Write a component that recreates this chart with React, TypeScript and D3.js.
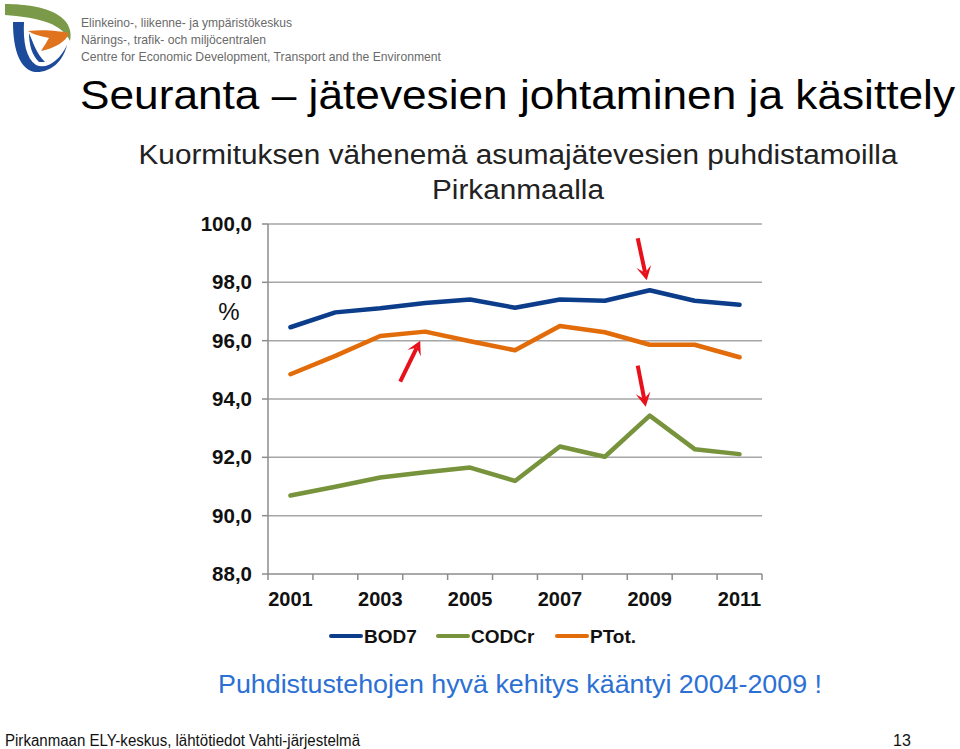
import React from "react";
import * as d3 from "d3";

const years = ["2001","2002","2003","2004","2005","2006","2007","2008","2009","2010","2011"];
const bod7 = [96.46, 96.97, 97.11, 97.29, 97.41, 97.13, 97.41, 97.37, 97.73, 97.37, 97.23];
const codcr = [90.69, 90.99, 91.31, 91.49, 91.65, 91.19, 92.37, 92.02, 93.43, 92.28, 92.11];
const ptot = [94.85, 95.48, 96.16, 96.31, 95.98, 95.67, 96.5, 96.29, 95.86, 95.86, 95.43];
const yTicks = [88, 90, 92, 94, 96, 98, 100];
const xLabelYears = ["2001","2003","2005","2007","2009","2011"];
const seriesNames = ["BOD7", "CODCr", "PTot."];

const COLORS = { BOD7: "#0c3d8b", CODCr: "#77933c", "PTot.": "#e26b0a" };

export default function App() {
  const x = d3.scaleBand().domain(years).range([268, 762]).padding(0);
  const y = d3.scaleLinear().domain([88, 100]).range([574, 224]);
  const cx = (yr: string) => (x(yr) as number) + x.bandwidth() / 2;
  const line = d3.line<number>().x((_, i) => cx(years[i])).y((v) => y(v));
  const series = [
    { name: "BOD7", values: bod7 },
    { name: "CODCr", values: codcr },
    { name: "PTot.", values: ptot },
  ];
  const fmt = (v: number) => v.toFixed(1).replace(".", ",");
  const boundaries = years.map((yr) => x(yr) as number).concat([762]);

  // arrows anchored to data points
  const arrows = [
    { px: cx("2004"), py: y(ptot[3]), tip: [-5, 9], tail: [-25, 50] },
    { px: cx("2009"), py: y(bod7[8]), tip: [-3, -10], tail: [-12, -52] },
    { px: cx("2009"), py: y(codcr[8]), tip: [-4, -9], tail: [-12, -50] },
  ];
  const arrowEls = arrows.map((a, i) => {
    const tx = a.px + a.tip[0], ty = a.py + a.tip[1];
    const sx = a.px + a.tail[0], sy = a.py + a.tail[1];
    const ang = Math.atan2(ty - sy, tx - sx);
    const len = 14, wid = 7.5;
    const bx = tx - Math.cos(ang) * len, by = ty - Math.sin(ang) * len;
    const nx = -Math.sin(ang), ny = Math.cos(ang);
    const mx = tx - Math.cos(ang) * len * 0.55, my = ty - Math.sin(ang) * len * 0.55;
    const pts = `${tx},${ty} ${bx + nx * wid},${by + ny * wid} ${mx},${my} ${bx - nx * wid},${by - ny * wid}`;
    return (
      <g key={i}>
        <line x1={sx} y1={sy} x2={mx} y2={my} stroke="#e8101a" strokeWidth={4} />
        <polygon points={pts} fill="#e8101a" />
      </g>
    );
  });

  const legendX = [331, 438, 557];

  return (
    <svg width={960} height={749} style={{ position: "absolute", left: 0, top: 0, background: "#fff" }}
      fontFamily="'Liberation Sans', Arial, sans-serif">
      <rect x={0} y={0} width={960} height={749} fill="#fff" />
      {/* logo */}
      <g>
        <path d="M5,4 C25,4 48,7 61,17 C69,23 72,32 70,41 C66,33 59,27 49,23 C35,18 20,16 5,15 Z" fill="#7a9a4a" />
        <path d="M13,22 L24,22 C23,42 26,58 36,65 C47,70 60,60 67,45 C63,62 50,73 35,72 C21,70 13,52 13,22 Z" fill="#1d4b9c" />
        <path d="M29,33 C33,42 36,53 45,62 L39,62 C32,55 29,45 29,33 Z" fill="#1d4b9c" />
        <path d="M28,31 C44,29 60,31 69,33 C66,42 55,48 41,51 C45,45 47,41 49,38 C41,36 34,35 28,31 Z" fill="#e0731e" />
      </g>
      <g fill="#6a6a6a" fontSize={13.5}>
        <text x={81} y={27} textLength={211} lengthAdjust="spacingAndGlyphs">Elinkeino-, liikenne- ja ympäristökeskus</text>
        <text x={81} y={44} textLength={185} lengthAdjust="spacingAndGlyphs">Närings-, trafik- och miljöcentralen</text>
        <text x={81} y={61} textLength={360} lengthAdjust="spacingAndGlyphs">Centre for Economic Development, Transport and the Environment</text>
      </g>
      {/* titles */}
      <text x={80} y={109} fontSize={41} fill="#000" textLength={875} lengthAdjust="spacingAndGlyphs">Seuranta – jätevesien johtaminen ja käsittely</text>
      <text x={518} y={164} fontSize={27} fill="#222" textAnchor="middle" textLength={759} lengthAdjust="spacingAndGlyphs">Kuormituksen vähenemä asumajätevesien puhdistamoilla</text>
      <text x={518} y={199} fontSize={27} fill="#222" textAnchor="middle" textLength={172} lengthAdjust="spacingAndGlyphs">Pirkanmaalla</text>

      {/* gridlines */}
      {yTicks.filter((t) => t > 88).map((t) => (
        <line key={t} x1={268} x2={762} y1={y(t)} y2={y(t)} stroke="#a6a6a6" strokeWidth={1.5} />
      ))}
      {/* axes */}
      <line x1={268} x2={268} y1={224} y2={574} stroke="#8c8c8c" strokeWidth={1.5} />
      <line x1={268} x2={762} y1={574} y2={574} stroke="#8c8c8c" strokeWidth={1.5} />
      {yTicks.map((t) => (
        <line key={"yt" + t} x1={262} x2={268} y1={y(t)} y2={y(t)} stroke="#8c8c8c" strokeWidth={1.5} />
      ))}
      {boundaries.map((b, i) => (
        <line key={"xt" + i} x1={b} x2={b} y1={574} y2={580} stroke="#8c8c8c" strokeWidth={1.5} />
      ))}
      {yTicks.map((t) => (
        <text key={"yl" + t} x={252} y={y(t) + 7} textAnchor="end" fontSize={20.5} fontWeight="bold" fill="#111">{fmt(t)}</text>
      ))}
      <text x={229} y={320} textAnchor="middle" fontSize={24} fill="#111">%</text>
      {xLabelYears.map((yr) => (
        <text key={yr} x={cx(yr)} y={606} textAnchor="middle" fontSize={20} fontWeight="bold" fill="#111">{yr}</text>
      ))}

      {/* series */}
      {series.map((s) => (
        <path key={s.name} d={line(s.values) as string} fill="none" stroke={(COLORS as any)[s.name]}
          strokeWidth={4.5} strokeLinejoin="round" strokeLinecap="round" />
      ))}

      {arrowEls}

      {/* legend */}
      {seriesNames.map((n, i) => (
        <g key={n}>
          <line x1={legendX[i]} x2={legendX[i] + 30} y1={636} y2={636} stroke={(COLORS as any)[n]} strokeWidth={4} strokeLinecap="round" />
          <text x={legendX[i] + 33} y={643} fontSize={19} fontWeight="bold" fill="#111">{n}</text>
        </g>
      ))}

      <text x={218} y={693} fontSize={26} fill="#2c70d4" textLength={604} lengthAdjust="spacingAndGlyphs">Puhdistustehojen hyvä kehitys kääntyi 2004-2009 !</text>

      <text x={5} y={746} fontSize={16} fill="#111" fontFamily="'Liberation Sans Narrow', 'Liberation Sans', sans-serif" textLength={355} lengthAdjust="spacingAndGlyphs">Pirkanmaan ELY-keskus, lähtötiedot Vahti-järjestelmä</text>
      <text x={893} y={746} fontSize={16} fill="#111" fontFamily="'Liberation Sans Narrow', 'Liberation Sans', sans-serif">13</text>
    </svg>
  );
}
